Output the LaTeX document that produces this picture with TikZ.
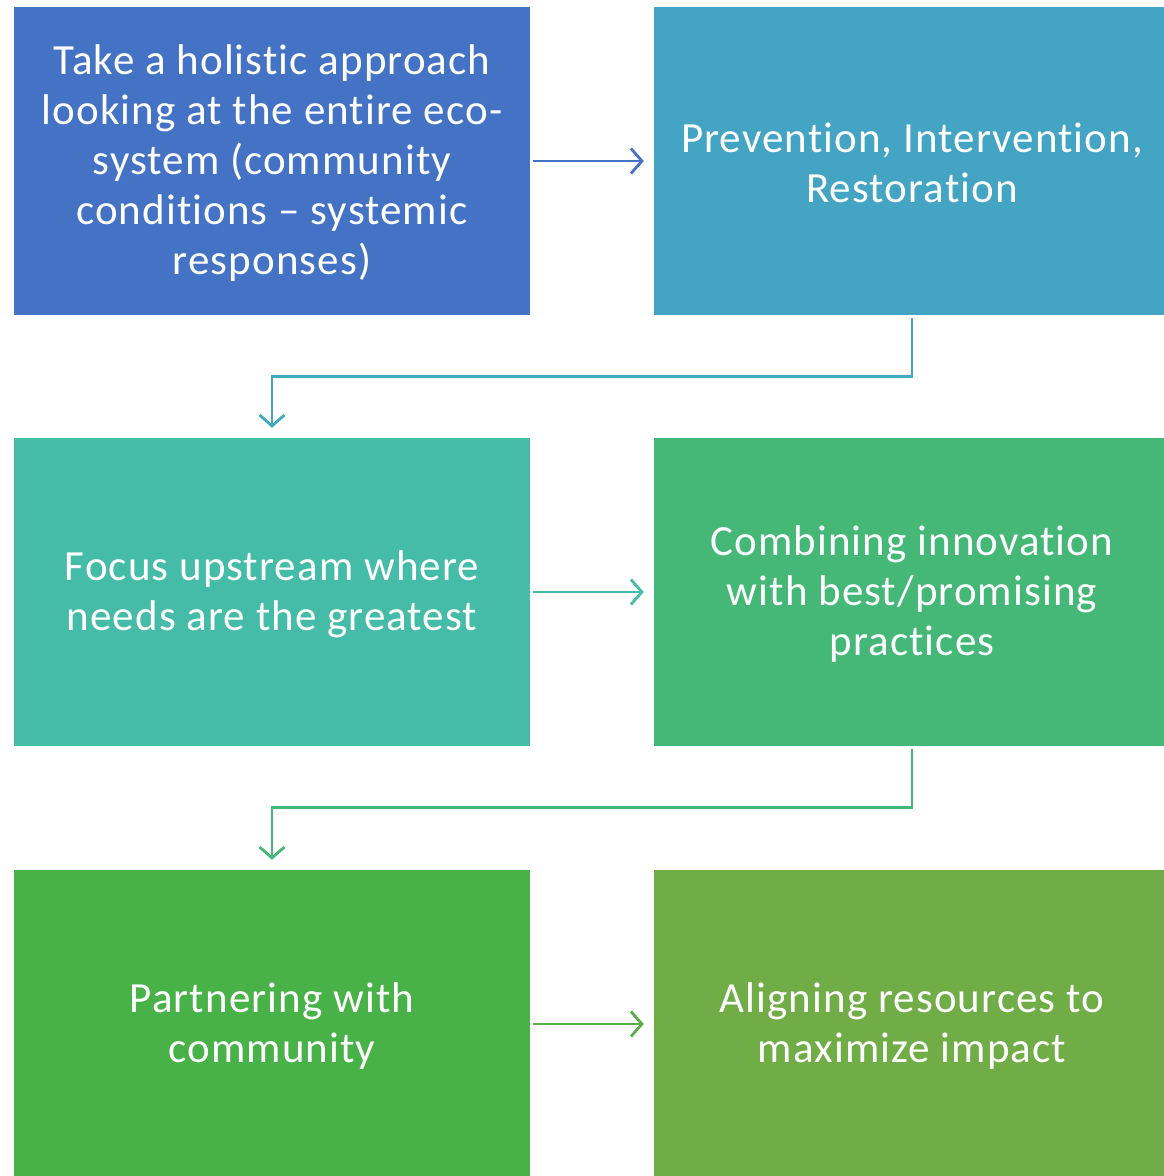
\documentclass[tikz,border=0pt]{standalone}
\usepackage{fontspec}
\setmainfont{Carlito}[Ligatures=NoCommon,LetterSpace=2.5]
\usetikzlibrary{arrows.meta}
\definecolor{cA}{RGB}{68,114,196}
\definecolor{cB}{RGB}{68,164,196}
\definecolor{cC}{RGB}{69,188,168}
\definecolor{cD}{RGB}{69,184,120}
\definecolor{cE}{RGB}{72,178,72}
\definecolor{cF}{RGB}{112,173,71}
\tikzset{
  box/.style={rectangle, minimum width=516pt, minimum height=308pt, inner sep=0pt,
    text=white, align=center, font=\fontsize{43}{50}\selectfont},
  lbl/.style={text=white, align=center, font=\fontsize{43}{50}\selectfont, inner sep=0pt},
  arr/.style={line width=2.8pt, -{Straight Barb[length=11pt,width=25pt,line width=2.8pt]}}
}
\begin{document}
\begin{tikzpicture}[x=1pt,y=-1pt]
\useasboundingbox (0,0) rectangle (1164,1176);
\clip (0,0) rectangle (1164,1176);
\node[box, fill=cA] (b1) at (272,161) {};
\node[box, fill=cB] (b2) at (912,161) {};
\node[box, fill=cC] (b3) at (272,592) {};
\node[box, fill=cD] (b4) at (912,592) {};
\node[box, fill=cE] (b5) at (272,1024) {};
\node[box, fill=cF] (b6) at (912,1024) {};
\node[lbl] (t1) at ([yshift=-2pt]b1.center) {Take a holistic approach\\looking at the entire eco-\\system (community\\conditions – systemic\\responses)};
\node[lbl] (t2) at ([yshift=-2pt]b2.center) {Prevention, Intervention,\\Restoration};
\node[lbl] (t3) at ([yshift=-2pt]b3.center) {Focus upstream where\\needs are the greatest};
\node[lbl] (t4) at ([yshift=-2pt]b4.center) {Combining innovation\\with best/promising\\practices};
\node[lbl] (t5) at ([yshift=-2pt]b5.center) {Partnering with\\community};
\node[lbl] (t6) at ([yshift=-2pt]b6.center) {Aligning resources to\\maximize impact};
\draw[arr, cA] ([xshift=3pt]b1.east) -- ([xshift=-10pt]b2.west);
\draw[arr, cB!80!cC] ([yshift=-3pt]b2.south) -- ++(0,58) -| ([yshift=10pt]b3.north);
\draw[arr, cC] ([xshift=3pt]b3.east) -- ([xshift=-10pt]b4.west);
\draw[arr, cD] ([yshift=-3pt]b4.south) -- ++(0,58) -| ([yshift=10pt]b5.north);
\draw[arr, cE!60!cF] ([xshift=3pt]b5.east) -- ([xshift=-10pt]b6.west);
\end{tikzpicture}
\end{document}
